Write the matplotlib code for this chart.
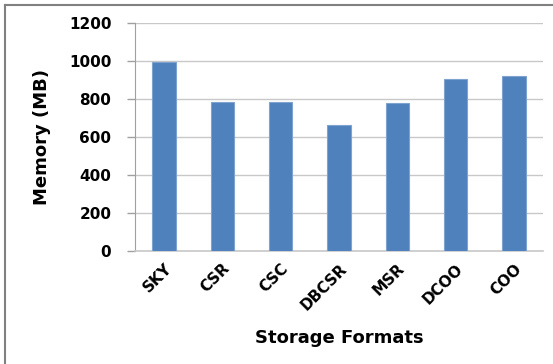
import matplotlib
matplotlib.use("Agg")
import matplotlib.pyplot as plt
from matplotlib.lines import Line2D

categories = ["SKY", "CSR", "CSC", "DBCSR", "MSR", "DCOO", "COO"]
memory_mb = [997, 786, 786, 663, 779, 904, 919]
y_ticks = [0, 200, 400, 600, 800, 1000, 1200]

plt.rcParams['font.family'] = ['DejaVu Sans']

fig = plt.figure(figsize=(5.53, 3.64), dpi=100)
ax = fig.add_axes([0.244, 0.310, 0.738, 0.627])

x = list(range(len(categories)))
ax.bar(x, memory_mb, width=0.4, color="#4F81BD", edgecolor="#7FA3CF",
       linewidth=0.8, zorder=3)

ax.set_xlim(-0.5, len(categories) - 0.5)
ax.set_ylim(0, 1200)
ax.set_yticks(y_ticks)
ax.set_yticklabels([str(v) for v in y_ticks], fontsize=11, fontweight='bold')
ax.grid(axis='y', color="#C8C8C8", linewidth=1.0, zorder=0)

ax.set_xticks(x)
ax.set_xticklabels(categories, rotation=45, ha='right', rotation_mode='anchor',
                   fontsize=11, fontweight='bold')
ax.tick_params(axis='x', length=0, pad=7)
ax.tick_params(axis='y', length=6, width=1, color="#A0A0A0", pad=11)

for side in ("top", "right"):
    ax.spines[side].set_visible(False)
ax.spines["left"].set_color("#A0A0A0")
ax.spines["bottom"].set_color("#C8C8C8")
ax.spines["bottom"].set_linewidth(1.2)

ax.set_ylabel("Memory (MB)", fontsize=13, fontweight='bold', labelpad=13)
ax.set_xlabel("Storage Formats", fontsize=13, fontweight='bold', labelpad=12)

# frame edges along the top and left of the figure
fig.add_artist(Line2D([4.5 / 553, 1.0], [1 - 4.5 / 364, 1 - 4.5 / 364],
                      transform=fig.transFigure, color="#808080", linewidth=1.5))
fig.add_artist(Line2D([4.5 / 553, 4.5 / 553], [0.0, 1 - 4.5 / 364],
                      transform=fig.transFigure, color="#808080", linewidth=1.5))

fig.savefig("out.png", dpi=100)
